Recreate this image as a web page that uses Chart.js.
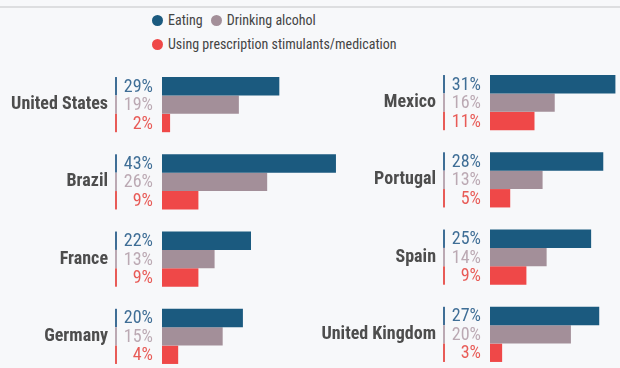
<!DOCTYPE html>
<html>
<head>
<meta charset="utf-8">
<script src="https://cdn.jsdelivr.net/npm/chart.js@4"></script>
<style>
  body { margin: 0; width: 620px; height: 368px; overflow: hidden; background: #f7f8fa; position: relative;
         font-family: "Roboto Condensed", "Liberation Sans Narrow", "DejaVu Sans Condensed", Roboto, sans-serif; }
  .topline { position: absolute; left: 0; top: 6px; width: 620px; height: 2px; background: #dddee0; }
  #legend { position: absolute; left: 152px; top: 8px; width: 240px; display: flex; flex-wrap: wrap; font-size: 14px; color: #444; }
  .item { display: flex; align-items: center; margin-right: 8px; height: 24px; white-space: nowrap; }
  .dot { width: 11px; height: 11px; border-radius: 50%; margin-right: 5px; }
  .box { position: absolute; height: 309px; }
</style>
</head>
<body>
<div class="topline"></div>
<div id="legend"></div>
<div class="box" style="left:0;top:66px;width:340px"><canvas id="leftChart"></canvas></div>
<div class="box" style="left:300px;top:64px;width:368px"><canvas id="rightChart"></canvas></div>
<script>
// data
const seriesNames = ["Eating", "Drinking alcohol", "Using prescription stimulants/medication"];
const barColors = ["#1b5a7f", "#a38f99", "#ef4848"];
const labelColors = ["#3f6e96", "#bba9b3", "#e85b57"];

const countriesLeft = ["United States", "Brazil", "France", "Germany"];
const eatingLeft = [29, 43, 22, 20];
const alcoholLeft = [19, 26, 13, 15];
const stimLeft = [2, 9, 9, 4];

const countriesRight = ["Mexico", "Portugal", "Spain", "United Kingdom"];
const eatingRight = [31, 28, 25, 27];
const alcoholRight = [16, 13, 14, 20];
const stimRight = [11, 5, 9, 3];

const fontFam = '"Roboto Condensed", "Liberation Sans Narrow", "DejaVu Sans Condensed", Roboto, sans-serif';

// legend
const legend = document.getElementById("legend");
seriesNames.forEach((name, i) => {
    legend.innerHTML += `<div class="item"><div class="dot" style="background:${barColors[i]}"></div>${name}</div>`;
});

// percent labels + colored ticks left of the bars
const valueLabels = {
    id: "valueLabels",
    afterDatasetsDraw(chart) {
        const ctx = chart.ctx;
        const left = chart.chartArea.left;
        ctx.save();
        ctx.font = "18px " + fontFam;
        ctx.textAlign = "right";
        ctx.textBaseline = "middle";
        chart.data.datasets.forEach((ds, i) => {
            chart.getDatasetMeta(i).data.forEach((bar, j) => {
                const h = bar.height;
                ctx.fillStyle = labelColors[i];
                ctx.fillRect(left - 47, bar.y - h / 2, 2, h);
                ctx.fillText(ds.data[j] + "%", left - 9, bar.y + 1);
            });
        });
        ctx.restore();
    }
};

function makeChart(id, countries, eating, alcohol, stim, axisWidth) {
    const values = [eating, alcohol, stim];
    new Chart(document.getElementById(id), {
        type: "bar",
        data: {
            labels: countries,
            datasets: values.map((v, i) => ({
                label: seriesNames[i],
                data: v,
                backgroundColor: barColors[i],
                borderWidth: 0,
                barPercentage: 1,
                categoryPercentage: 0.714
            }))
        },
        options: {
            indexAxis: "y",
            responsive: true,
            maintainAspectRatio: false,
            animation: false,
            layout: { padding: 0 },
            plugins: { legend: { display: false }, tooltip: { enabled: false } },
            scales: {
                x: { display: false, min: 0, max: 44 },
                y: {
                    grid: { display: false },
                    border: { display: false },
                    ticks: { padding: 46, color: "#4d4d4d", font: { size: 18, weight: "bold", family: fontFam } },
                    afterFit: s => {
                        s.width = axisWidth;
                        s.paddingTop = 0;
                        s.paddingBottom = 0;
                    }
                }
            }
        },
        plugins: [valueLabels]
    });
}

makeChart("leftChart", countriesLeft, eatingLeft, alcoholLeft, stimLeft, 162);
makeChart("rightChart", countriesRight, eatingRight, alcoholRight, stimRight, 190);
</script>
</body>
</html>
